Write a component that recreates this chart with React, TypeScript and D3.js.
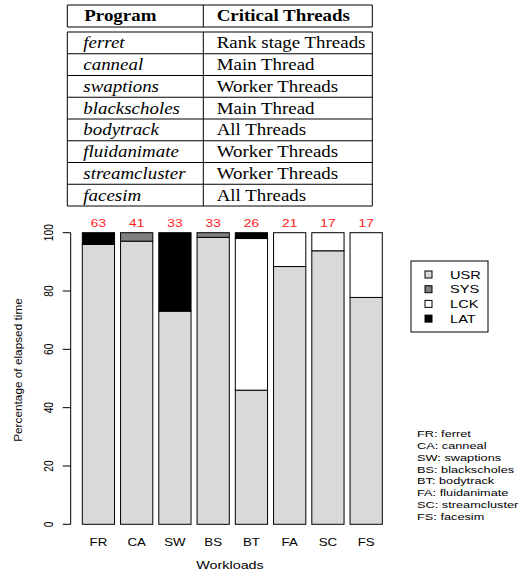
import React from "react";
import * as d3 from "d3";

const programs = ["ferret", "canneal", "swaptions", "blackscholes", "bodytrack", "fluidanimate", "streamcluster", "facesim"];
const criticalThreads = ["Rank stage Threads", "Main Thread", "Worker Threads", "Main Thread", "All Threads", "Worker Threads", "Worker Threads", "All Threads"];
const tableHeader = ["Program", "Critical Threads"];

const codes = ["FR", "CA", "SW", "BS", "BT", "FA", "SC", "FS"];
const usr = [96.0, 97.1, 73.1, 98.4, 46.0, 88.4, 93.8, 77.8];
const sys = [0, 2.9, 0, 1.6, 0, 0, 0, 0];
const lck = [0, 0, 0, 0, 52.0, 11.6, 6.2, 22.2];
const lat = [4.0, 0, 26.9, 0, 2.0, 0, 0, 0];
const threadCounts = [63, 41, 33, 33, 26, 21, 17, 17];
const seriesKeys = ["USR", "SYS", "LCK", "LAT"];
const seriesColors = ["#d9d9d9", "#7f7f7f", "#ffffff", "#000000"];
const yTicks = [0, 20, 40, 60, 80, 100];
const abbreviations = ["FR: ferret", "CA: canneal", "SW: swaptions", "BS: blackscholes", "BT: bodytrack", "FA: fluidanimate", "SC: streamcluster", "FS: facesim"];

const SANS = "'Liberation Sans', Arial, Helvetica, sans-serif";
const SERIF = "'Liberation Serif', 'Times New Roman', Times, serif";
const SX = 1.33; // horizontal stretch of chart text
const TX = 1.14; // horizontal stretch of table text

export default function App() {
  const rows = codes.map((c, i) => ({ code: c, USR: usr[i], SYS: sys[i], LCK: lck[i], LAT: lat[i] }));
  const stack = d3.stack<any>().keys(seriesKeys);
  const layers = stack(rows);

  const x = d3.scaleBand<string>().domain(codes).range([82.3, 382.3]).paddingInner(0.157).paddingOuter(0);
  const y = d3.scaleLinear().domain([0, 100]).range([524.3, 232.7]);

  // table geometry
  const tLeft = 67.3, tMid = 203.3, tRight = 372.3;
  const tTop = 5, hBottom = 27, bodyTop = 32, rowH = 21.75;
  const tBottom = bodyTop + rowH * programs.length;

  return (
    <svg width={520} height={572} style={{ position: "absolute", left: 0, top: 0 }} xmlns="http://www.w3.org/2000/svg">
      <rect width={520} height={572} fill="#fff" />
      {/* table */}
      <g stroke="#000" strokeWidth={1} fill="none">
        <line x1={tLeft} x2={tRight} y1={tTop} y2={tTop} />
        <line x1={tLeft} x2={tRight} y1={hBottom} y2={hBottom} />
        <line x1={tLeft} x2={tRight} y1={bodyTop} y2={bodyTop} />
        {programs.map((_, i) => (
          <line key={i} x1={tLeft} x2={tRight} y1={bodyTop + rowH * (i + 1)} y2={bodyTop + rowH * (i + 1)} />
        ))}
        {[tLeft, tMid, tRight].map((xx, i) => (
          <g key={i}>
            <line x1={xx} x2={xx} y1={tTop} y2={hBottom} />
            <line x1={xx} x2={xx} y1={bodyTop} y2={tBottom} />
          </g>
        ))}
      </g>
      <g fontFamily={SERIF} fontSize={16.6} fill="#000">
        <text transform={`translate(84.3,20.8) scale(${TX},1)`} fontWeight="bold">{tableHeader[0]}</text>
        <text transform={`translate(216.7,20.8) scale(${TX},1)`} fontWeight="bold">{tableHeader[1]}</text>
        {programs.map((p, i) => (
          <text key={p} transform={`translate(83.3,${48.3 + rowH * i}) scale(${TX},1)`} fontStyle="italic">{p}</text>
        ))}
        {criticalThreads.map((t, i) => (
          <text key={i} transform={`translate(216.7,${48.3 + rowH * i}) scale(${TX},1)`}>{t}</text>
        ))}
      </g>

      {/* bars */}
      {layers.map((layer, li) => (
        <g key={layer.key} fill={seriesColors[li]} stroke="#000" strokeWidth={1}>
          {layer.map((d: any, i: number) =>
            d[1] - d[0] > 0 ? (
              <rect key={i} x={x(codes[i])} width={x.bandwidth()} y={y(d[1])} height={y(d[0]) - y(d[1])} />
            ) : null
          )}
        </g>
      ))}

      {/* thread count labels */}
      <g fontFamily={SANS} fontSize={10.3} fill="#ff2020" textAnchor="middle">
        {threadCounts.map((n, i) => (
          <text key={i} transform={`translate(${x(codes[i])! + x.bandwidth() / 2},227.3) scale(${SX},1)`}>{n}</text>
        ))}
      </g>

      {/* y axis */}
      <g stroke="#000" strokeWidth={1}>
        <line x1={70.7} x2={70.7} y1={y(0)} y2={y(100)} />
        {yTicks.map((t) => (
          <line key={t} x1={62.7} x2={70.7} y1={y(t)} y2={y(t)} />
        ))}
      </g>
      <g fontFamily={SANS} fontSize={10.2} fill="#000" textAnchor="middle">
        {yTicks.map((t) => (
          <text key={t} transform={`translate(53,${y(t)}) scale(${SX},1) rotate(-90)`}>{t}</text>
        ))}
      </g>
      <text transform={`translate(22,370) rotate(-90)`} fontFamily={SANS} fontSize={11.8} textAnchor="middle" fill="#000">
        Percentage of elapsed time
      </text>

      {/* x labels */}
      <g fontFamily={SANS} fontSize={10} fill="#000" textAnchor="middle">
        {codes.map((c) => (
          <text key={c} transform={`translate(${x(c)! + x.bandwidth() / 2},546) scale(${SX},1)`}>{c}</text>
        ))}
      </g>
      <text transform={`translate(230,569) scale(${SX},1)`} fontFamily={SANS} fontSize={10.8} textAnchor="middle" fill="#000">
        Workloads
      </text>

      {/* legend */}
      <rect x={411} y={261} width={77} height={71} fill="#fff" stroke="#000" strokeWidth={1} />
      {seriesKeys.map((k, i) => (
        <g key={k}>
          <rect x={425} y={271 + i * 14.7} width={7} height={7} fill={seriesColors[i]} stroke="#000" strokeWidth={1} />
          <text transform={`translate(450,${278.5 + i * 14.7}) scale(${SX},1)`} fontFamily={SANS} fontSize={11} fill="#000">{k}</text>
        </g>
      ))}

      {/* abbreviations */}
      <g fontFamily={SANS} fontSize={9.6} fill="#000">
        {abbreviations.map((a, i) => (
          <text key={a} transform={`translate(417,${437 + i * 11.86}) scale(${SX},1)`}>{a}</text>
        ))}
      </g>
    </svg>
  );
}
